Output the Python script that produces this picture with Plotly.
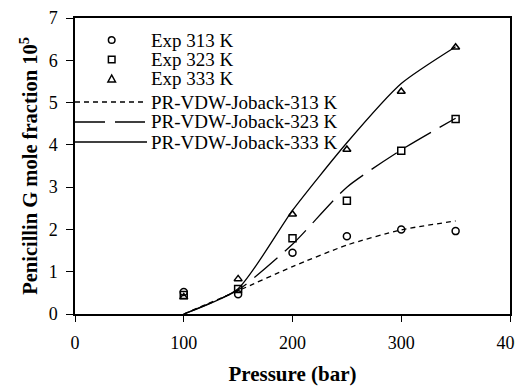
import plotly.graph_objects as go

pressure_exp = [100, 150, 200, 250, 300, 350]
exp_313 = [0.52, 0.47, 1.45, 1.84, 2.00, 1.96]
exp_323 = [0.45, 0.59, 1.79, 2.68, 3.86, 4.61]
exp_333 = [0.40, 0.83, 2.36, 3.89, 5.26, 6.31]

pressure_model = [100, 150, 200, 250, 300, 350]
model_313 = [0.0, 0.55, 1.12, 1.63, 1.99, 2.20]
model_323 = [0.0, 0.57, 1.65, 3.00, 3.88, 4.63]
model_333 = [0.0, 0.60, 2.45, 4.05, 5.45, 6.32]

exp_names = ["Exp 313 K", "Exp 323 K", "Exp 333 K"]
model_names = ["PR-VDW-Joback-313 K", "PR-VDW-Joback-323 K", "PR-VDW-Joback-333 K"]

x_ticks = [0, 100, 200, 300, 400]
y_ticks = [0, 1, 2, 3, 4, 5, 6, 7]

FONT = "Liberation Serif, Times New Roman, serif"
# page body has an 8px margin: figure sized to fit the 523x386 window
OFF = 8
W, H = 523 - OFF, 386 - OFF
ML, MT = 75 - OFF, 18 - OFF
MR = W - (510 - OFF)
MB = H - (314 - OFF)
PW, PH = W - ML - MR, H - MT - MB

def px(p):
    return (p - OFF - ML) / PW

def py(p):
    return (H - MB - (p - OFF)) / PH

symbols = ["circle-open", "square-open", "triangle-up-open"]
dashes = ["5px,4px", "30px,10px", "solid"]

fig = go.Figure()
for name, ys, sym in zip(exp_names, [exp_313, exp_323, exp_333], symbols):
    fig.add_trace(go.Scatter(x=pressure_exp, y=ys, mode="markers", name=name,
                             showlegend=False, cliponaxis=False,
                             marker=dict(symbol=sym, size=7, color="black",
                                         line=dict(color="black", width=1.5))))
for name, ys, dash in zip(model_names, [model_313, model_323, model_333], dashes):
    fig.add_trace(go.Scatter(x=pressure_model, y=ys, mode="lines", name=name,
                             showlegend=False,
                             line=dict(color="black", width=1.3, dash=dash,
                                       shape="spline", smoothing=0.6)))

# manual legend (positions in window pixels converted to paper units)
shapes = []
annotations = []
row_y = [40, 59.5, 79, 102, 122, 142]
mx, r = 111.7, 3.3
text_x = 149
lw = dict(color="black", width=1.5)
shapes.append(dict(type="circle", xref="paper", yref="paper",
                   x0=px(mx - r), x1=px(mx + r), y0=py(row_y[0] + r), y1=py(row_y[0] - r), line=lw))
shapes.append(dict(type="rect", xref="paper", yref="paper",
                   x0=px(mx - r), x1=px(mx + r), y0=py(row_y[1] + r), y1=py(row_y[1] - r), line=lw))
ty = row_y[2]
shapes.append(dict(type="path", xref="paper", yref="paper",
                   path=f"M {px(mx - 3.8)},{py(ty + 3)} L {px(mx + 3.8)},{py(ty + 3)} L {px(mx)},{py(ty - 4)} Z",
                   line=lw))
for i, dash in enumerate(dashes):
    yy = py(row_y[3 + i])
    shapes.append(dict(type="line", xref="paper", yref="paper",
                       x0=0, x1=px(147), y0=yy, y1=yy,
                       line=dict(color="black", width=1.3, dash=dash)))
for i, name in enumerate(exp_names + model_names):
    annotations.append(dict(text=name, xref="paper", yref="paper", x=px(text_x), y=py(row_y[i]),
                            xanchor="left", yanchor="middle", showarrow=False,
                            font=dict(family=FONT, size=19, color="black")))

fig.update_layout(
    width=W, height=H,
    margin=dict(l=ML, r=MR, t=MT, b=MB, autoexpand=False),
    paper_bgcolor="white", plot_bgcolor="white",
    font=dict(family=FONT, size=18, color="black"),
    showlegend=False,
    shapes=shapes, annotations=annotations,
    xaxis=dict(range=[0, 400], tickvals=x_ticks, ticks="outside", ticklen=6,
               tickcolor="black", showline=True, linecolor="black", linewidth=1.5,
               mirror=True, showgrid=False, zeroline=False, automargin=False,
               tickfont=dict(family=FONT, size=18), ticklabelstandoff=6,
               ticklabeloverflow="allow",
               title=dict(text="<b>Pressure (bar)</b>", font=dict(family=FONT, size=21), standoff=17)),
    yaxis=dict(range=[0, 7], tickvals=y_ticks, ticks="outside", ticklen=7,
               tickcolor="black", showline=True, linecolor="black", linewidth=1.5,
               mirror=True, showgrid=False, zeroline=False, automargin=False,
               tickfont=dict(family=FONT, size=18), ticklabelstandoff=5,
               ticklabeloverflow="allow",
               title=dict(text="<b>Penicillin G mole fraction 10<sup>5</sup></b>",
                          font=dict(family=FONT, size=20.5), standoff=5)),
)

fig.write_html("out.html")
